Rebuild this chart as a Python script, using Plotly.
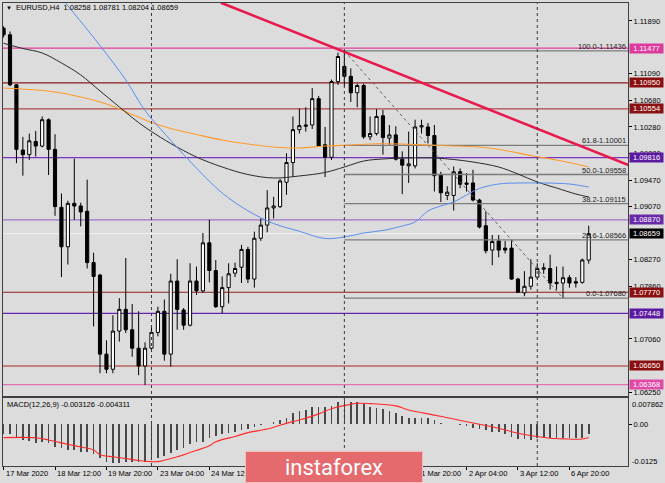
import plotly.graph_objects as go

W, H = 665, 483

# ---------------- data ----------------
opens = [1.1178, 1.1168, 1.1092, 1.0993, 1.0986, 1.1006, 1.0999, 1.1039, 1.0994, 1.0906,
         1.0846, 1.0912, 1.0908, 1.0900, 1.0822, 1.0803, 1.0683, 1.0660, 1.0718, 1.0751,
         1.0720, 1.0692, 1.0665, 1.0692, 1.0716, 1.0748, 1.0683, 1.0794, 1.0750, 1.0727,
         1.0794, 1.0779, 1.0852, 1.0810, 1.0755, 1.0784, 1.0806, 1.0815, 1.0842, 1.0797,
         1.0859, 1.0879, 1.0905, 1.0907, 1.0944, 1.0974, 1.1024, 1.1029, 1.1031, 1.1071,
         1.1001, 1.0982, 1.1097, 1.1120, 1.1105, 1.1080, 1.1091, 1.1013, 1.1018, 1.1045,
         1.1011, 1.1016, 1.0979, 1.0969, 1.0969, 1.1028, 1.1028, 1.1015, 1.0956, 1.0924,
         1.0924, 1.0960, 1.0943, 1.0943, 1.0917, 1.0878, 1.0841, 1.0855, 1.0844, 1.0844,
         1.0797, 1.0776, 1.0786, 1.0800, 1.0812, 1.0813, 1.0792, 1.0791, 1.0799, 1.0793,
         1.0792, 1.08258]
highs = [1.1181, 1.1173, 1.1093, 1.1013, 1.1018, 1.1022, 1.1044, 1.1041, 1.1017, 1.0927,
         1.0916, 1.0980, 1.0913, 1.0948, 1.0837, 1.0805, 1.0704, 1.0742, 1.0768, 1.0829,
         1.0759, 1.0748, 1.0701, 1.0726, 1.0755, 1.0766, 1.0805, 1.0827, 1.0753, 1.0821,
         1.0816, 1.0867, 1.0887, 1.0826, 1.0801, 1.0821, 1.0822, 1.0849, 1.0846, 1.0869,
         1.0889, 1.0932, 1.0922, 1.0949, 1.0988, 1.1044, 1.1056, 1.1058, 1.1087, 1.1075,
         1.1028, 1.1100, 1.1141, 1.11436, 1.1117, 1.1094, 1.1094, 1.1044, 1.1055, 1.1054,
         1.1031, 1.1029, 1.0991, 1.1021, 1.1039, 1.1039, 1.1034, 1.1031, 1.0960, 1.0938,
         1.0968, 1.0965, 1.0958, 1.0963, 1.0919, 1.0900, 1.0864, 1.0864, 1.0855, 1.0856,
         1.0799, 1.0809, 1.0827, 1.0821, 1.0821, 1.0834, 1.0816, 1.0816, 1.0803, 1.0800,
         1.0828, 1.08781]
lows = [1.1164, 1.1090, 1.0973, 1.0954, 1.0978, 1.0983, 1.0997, 1.0955, 1.0893, 1.0800,
        1.0819, 1.0887, 1.0877, 1.0813, 1.0725, 1.0654, 1.0654, 1.0654, 1.0702, 1.0715,
        1.0679, 1.0651, 1.0636, 1.0688, 1.0710, 1.0673, 1.0664, 1.0720, 1.0720, 1.0725,
        1.0773, 1.0776, 1.0792, 1.0753, 1.0745, 1.0760, 1.0800, 1.0791, 1.0791, 1.0784,
        1.0855, 1.0868, 1.0889, 1.0905, 1.0925, 1.0952, 1.1018, 1.1021, 1.1025, 1.0998,
        1.0952, 1.0978, 1.1092, 1.1089, 1.1066, 1.1058, 1.1010, 1.1008, 1.1015, 1.0986,
        1.1001, 1.0977, 1.0926, 1.0943, 1.0965, 1.1018, 1.1003, 1.0930, 1.0914, 1.0917,
        1.0901, 1.0935, 1.0930, 1.0915, 1.0874, 1.0836, 1.0818, 1.0830, 1.0836, 1.0796,
        1.0776, 1.0771, 1.0781, 1.0797, 1.0805, 1.0781, 1.0781, 1.0768, 1.0784, 1.0784,
        1.0790, 1.08204]
closes = [1.1168, 1.1092, 1.0994, 1.0986, 1.1007, 1.0999, 1.1039, 1.0994, 1.0907, 1.0846,
          1.0912, 1.0908, 1.0899, 1.0822, 1.0801, 1.0683, 1.0660, 1.0718, 1.0751, 1.0720,
          1.0692, 1.0665, 1.0692, 1.0716, 1.0748, 1.0683, 1.0794, 1.0751, 1.0727, 1.0794,
          1.0779, 1.0852, 1.0810, 1.0755, 1.0784, 1.0805, 1.0813, 1.0842, 1.0797, 1.0859,
          1.0879, 1.0905, 1.0908, 1.0946, 1.0974, 1.1024, 1.1030, 1.1031, 1.1071, 1.0999,
          1.0982, 1.1097, 1.1135, 1.1105, 1.1080, 1.1091, 1.1013, 1.1018, 1.1044, 1.1012,
          1.1016, 1.0979, 1.0970, 1.0972, 1.1028, 1.1030, 1.1015, 1.0954, 1.0928, 1.0929,
          1.0960, 1.0941, 1.0941, 1.0917, 1.0876, 1.0840, 1.0854, 1.0841, 1.0841, 1.0797,
          1.0777, 1.0786, 1.0800, 1.0813, 1.0814, 1.0791, 1.0790, 1.0799, 1.0791, 1.0791,
          1.0826, 1.08659]

# moving averages (bar index, value)
ma_blue_idx = [8, 9, 15, 19, 22, 26, 30, 34, 38, 42, 46, 50, 53, 56, 59, 62, 64, 66, 68,
               70, 72, 74, 77, 80, 84, 88, 91]
ma_blue_val = [1.12358, 1.12240, 1.11516, 1.10994, 1.10530, 1.10076, 1.09654, 1.09277,
               1.09007, 1.08814, 1.08696, 1.08586, 1.08609, 1.08670, 1.08708, 1.08776,
               1.08837, 1.09004, 1.09080, 1.09141, 1.09247, 1.09346, 1.09414, 1.09429,
               1.09429, 1.09414, 1.09368]
ma_black_idx = [0, 3, 6, 9, 12, 15, 18, 21, 23, 26, 30, 34, 38, 42, 46, 50, 53, 56, 59,
                63, 67, 70, 73, 77, 80, 83, 86, 89, 91]
ma_black_val = [1.11551, 1.11472, 1.11404, 1.11252, 1.11070, 1.10827, 1.10584, 1.10347,
                1.10211, 1.10029, 1.09824, 1.09672, 1.09558, 1.09505, 1.09536, 1.09589,
                1.09672, 1.09763, 1.09794, 1.09809, 1.09809, 1.09786, 1.09748, 1.09672,
                1.09566, 1.09444, 1.09353, 1.09262, 1.09217]
ma_orange_idx = [0, 4, 8, 12, 16, 20, 23, 26, 30, 34, 38, 42, 46, 50, 54, 58, 62, 66, 70,
                 74, 78, 82, 86, 89, 91]
ma_orange_val = [1.10872, 1.10849, 1.10812, 1.10736, 1.10629, 1.10470, 1.10348, 1.10257,
                 1.10166, 1.10082, 1.10022, 1.09976, 1.09961, 1.09991, 1.10006, 1.10025,
                 1.10022, 1.10006, 1.09991, 1.09976, 1.09923, 1.09847, 1.09779, 1.09718,
                 1.09672]

# MACD(12,26,9): main line (histogram) per bar, signal line points
macd_main = [-0.00326, -0.00326, -0.00402, -0.00511, -0.00544, -0.00620, -0.00587, -0.00620,
             -0.00728, -0.00783, -0.00837, -0.00837, -0.00891, -0.00913, -0.00978, -0.01109,
             -0.01217, -0.01250, -0.01250, -0.01217, -0.01217, -0.01217, -0.01217, -0.01174,
             -0.01109, -0.01033, -0.00946, -0.00837, -0.00761, -0.00652, -0.00587, -0.00565,
             -0.00435, -0.00370, -0.00326, -0.00293, -0.00239, -0.00196, -0.00163, -0.00080,
             -0.00030, 0.00010, 0.00090, 0.00140, 0.00220, 0.00360, 0.00430, 0.00467,
             0.00576, 0.00576, 0.00576, 0.00609, 0.00717, 0.00786, 0.00739, 0.00717,
             0.00652, 0.00576, 0.00522, 0.00500, 0.00435, 0.00359, 0.00272, 0.00217,
             0.00217, 0.00217, 0.00196, 0.00141, 0.00033, 0.00011, -0.00005, -0.00022,
             -0.00043, -0.00109, -0.00152, -0.00185, -0.00261, -0.00239, -0.00326, -0.00402,
             -0.00478, -0.00489, -0.00511, -0.00435, -0.00457, -0.00457, -0.00457, -0.00457,
             -0.00457, -0.00435, -0.00435, -0.003126]
signal_idx = [0, 5, 7, 10, 12, 14, 15, 17, 19, 21, 23, 24, 25, 27, 29, 32, 33, 36, 38, 41,
              43, 45, 46, 49, 51, 54, 55, 57, 61, 63, 67, 70, 74, 77, 80, 83, 85, 87, 90, 91]
signal_val = [-0.00435, -0.00440, -0.00511, -0.00652, -0.00740, -0.00837, -0.00990, -0.01060,
              -0.01115, -0.01180, -0.01217, -0.01217, -0.01170, -0.01060, -0.00920, -0.00700,
              -0.00570, -0.00395, -0.00272, -0.00155, -0.00030, 0.00087, 0.00141, 0.00340,
              0.00510, 0.00652, 0.00685, 0.00674, 0.00600, 0.00467, 0.00300, 0.00170,
              0.00000, -0.00130, -0.00290, -0.00400, -0.00455, -0.00475, -0.00478, -0.004311]

# horizontal levels
level_prices = [1.11477, 1.10950, 1.10554, 1.09816, 1.08870, 1.07770, 1.07448, 1.06650, 1.06368]
level_line_colors = ['#e2409e', '#8e1c1c', '#b04848', '#7a36c0', '#a070cc', '#8e1c1c',
                     '#6424b0', '#a42424', '#e472b2']
level_box_colors = ['#dc3a9c', '#8a0e0e', '#8a1212', '#5c1aa0', '#6a2aa8', '#8a0e0e',
                    '#5c1aa0', '#8a0e0e', '#e04aa6']
bid_price = 1.08659

# fibonacci retracement
fib_anchor_idx = [53, 87]
fib_anchor_price = [1.11436, 1.07680]
fib_levels = ['100.0', '61.8', '50.0', '38.2', '23.6', '0.0']
fib_prices = [1.11436, 1.10001, 1.09558, 1.09115, 1.08566, 1.07680]

# red trendline anchors
trend_idx = [33.8, 97.2]
trend_price = [1.12168, 1.09700]

# week separators (bar index of Monday 00:00)
week_start_idx = [23, 53, 83]

# axis labels (labels fully hidden under the price boxes / watermark are omitted)
price_ticks = [1.11890, 1.11090, 1.10680, 1.10280, 1.09880, 1.09470, 1.09070,
               1.08270, 1.07860, 1.07060, 1.06250]
time_tick_idx = [0, 8, 16, 24, 32, 40, 48, 56, 64, 72, 80, 88]
time_label_idx = [0, 8, 16, 24, 32, 64, 72, 80, 88]
time_label_text = ['17 Mar 2020', '18 Mar 12:00', '19 Mar 20:00', '23 Mar 04:00',
                   '24 Mar 12:00', '31 Mar 20:00', '2 Apr 04:00', '3 Apr 12:00', '6 Apr 20:00']
macd_max, macd_min = 0.007862, -0.0125

title_text = 'EURUSD,H4  1.08258 1.08781 1.08204 1.08659'
macd_text = 'MACD(12,26,9) -0.003126 -0.004311'

# ---------------- layout helpers ----------------
def px(x):
    return x / W

def py(y):
    return 1 - y / H

FONT = 'Liberation Sans'
FS = 7.5
X_LEFT, X_RIGHT = 3, 628
MAIN_TOP, MAIN_BOT = 3, 396
SUB_TOP, SUB_BOT = 398, 466
X_RANGE = [-0.09, 97.11]
Y_RANGE = [1.06194, 1.12163]
Y2_RANGE = [-0.01359, 0.00857]

idx = list(range(len(opens)))

fig = go.Figure()

# fib lines
for p in fib_prices:
    fig.add_trace(go.Scatter(x=[fib_anchor_idx[0], X_RANGE[1]], y=[p, p], mode='lines',
                             line=dict(color='#7c7c7c', width=1.3), hoverinfo='skip'))
fig.add_trace(go.Scatter(x=fib_anchor_idx, y=fib_anchor_price, mode='lines',
                         line=dict(color='#606060', width=1, dash='dot'), hoverinfo='skip'))

# candles
fig.add_trace(go.Candlestick(
    x=idx, open=opens, high=highs, low=lows, close=closes,
    increasing=dict(line=dict(color='#000000', width=1), fillcolor='#ffffff'),
    decreasing=dict(line=dict(color='#000000', width=1), fillcolor='#000000'),
    whiskerwidth=0, hoverinfo='skip'))

# moving averages
fig.add_trace(go.Scatter(x=ma_orange_idx, y=ma_orange_val, mode='lines',
                         line=dict(color='#ff9b2e', width=1.1, shape='spline'), hoverinfo='skip'))
fig.add_trace(go.Scatter(x=ma_black_idx, y=ma_black_val, mode='lines',
                         line=dict(color='#2a2a2a', width=1, shape='spline'), hoverinfo='skip'))
fig.add_trace(go.Scatter(x=ma_blue_idx, y=ma_blue_val, mode='lines',
                         line=dict(color='#5a8ef0', width=1, shape='spline'), hoverinfo='skip'))

# trendline
fig.add_trace(go.Scatter(x=trend_idx, y=trend_price, mode='lines',
                         line=dict(color='#e8194c', width=2.6), hoverinfo='skip'))

# MACD
fig.add_trace(go.Bar(x=idx, y=macd_main, width=0.26, marker=dict(color='#484848', line=dict(width=0)),
                     xaxis='x2', yaxis='y2', hoverinfo='skip'))
fig.add_trace(go.Scatter(x=signal_idx, y=signal_val, mode='lines', xaxis='x2', yaxis='y2',
                         line=dict(color='#ff2a2a', width=1.1, shape='spline'), hoverinfo='skip'))

shapes = []
for p, c in zip(level_prices, level_line_colors):
    shapes.append(dict(type='line', xref='paper', yref='y', x0=px(X_LEFT), x1=px(X_RIGHT),
                       y0=p, y1=p, line=dict(color=c, width=1.2), layer='below'))
shapes.append(dict(type='line', xref='paper', yref='y', x0=px(X_LEFT), x1=px(X_RIGHT),
                   y0=bid_price, y1=bid_price, line=dict(color='#f2f2f2', width=1), layer='below'))
for wi in week_start_idx:
    shapes.append(dict(type='line', xref='x', yref='paper', x0=wi, x1=wi,
                       y0=py(SUB_BOT), y1=py(MAIN_TOP), line=dict(color='#3a3a3a', width=1, dash='dot')))

ann = []
# price boxes
for p, c in zip(level_prices, level_box_colors):
    ann.append(dict(xref='paper', yref='y', x=px(629), y=p, xanchor='left', yanchor='middle',
                    text='%.5f' % p, showarrow=False, bgcolor=c, width=33, height=9, borderpad=0,
                    font=dict(family=FONT, size=FS, color='#ffffff')))
ann.append(dict(xref='paper', yref='y', x=px(629), y=bid_price, xanchor='left', yanchor='middle',
                text='%.5f' % bid_price, showarrow=False, bgcolor='#000000', width=33, height=9,
                borderpad=0, font=dict(family=FONT, size=FS, color='#ffffff')))
# fib labels
for lv, p in zip(fib_levels, fib_prices):
    ann.append(dict(xref='paper', yref='y', x=px(X_RIGHT - 1), y=p, xanchor='right', yanchor='bottom',
                    text='%s-%.5f' % (lv, p), showarrow=False, borderpad=0, yshift=-1,
                    font=dict(family=FONT, size=FS, color='#222222')))
# title & macd label
ann.append(dict(xref='paper', yref='paper', x=px(4), y=py(8), xanchor='left', yanchor='middle',
                text='▼', showarrow=False, font=dict(family=FONT, size=6, color='#000000')))
ann.append(dict(xref='paper', yref='paper', x=px(14), y=py(8), xanchor='left', yanchor='middle',
                text=title_text, showarrow=False, font=dict(family=FONT, size=FS, color='#000000')))
ann.append(dict(xref='paper', yref='paper', x=px(5), y=py(404), xanchor='left', yanchor='middle',
                text=macd_text, showarrow=False, font=dict(family=FONT, size=FS, color='#000000')))
# macd axis labels
for val, ypx in [(macd_max, 404), (macd_min, 461)]:
    ann.append(dict(xref='paper', yref='paper', x=px(630), y=py(ypx), xanchor='left', yanchor='middle',
                    text=('%.6f' % val) if val > 0 else ('%.4f' % val), showarrow=False,
                    font=dict(family=FONT, size=FS, color='#000000')))
# time labels
for ti, tt in zip(time_label_idx, time_label_text):
    ann.append(dict(xref='x2', yref='paper', x=ti, y=py(473), xanchor='left', yanchor='middle',
                    text=tt, showarrow=False, xshift=0,
                    font=dict(family=FONT, size=FS, color='#000000')))
# watermark
ann.append(dict(xref='paper', yref='paper', x=px(245), y=py(483), xanchor='left', yanchor='bottom',
                text='instaforex', showarrow=False, bgcolor='#e46a6d', bordercolor='#f3bcbc',
                borderwidth=1, borderpad=0, width=176, height=30,
                font=dict(family='Roboto', size=22, color='#ffffff')))

axis_common = dict(showgrid=False, zeroline=False, showline=True, mirror=True,
                   linecolor='#404040', linewidth=1)

fig.update_layout(
    width=W, height=H, margin=dict(l=0, r=0, t=0, b=0),
    paper_bgcolor='#dcdcdc', plot_bgcolor='#dcdcdc', showlegend=False,
    shapes=shapes, annotations=ann, bargap=0,
    xaxis=dict(domain=[px(X_LEFT), px(X_RIGHT)], range=X_RANGE, anchor='y',
               showticklabels=False, rangeslider=dict(visible=False), **axis_common),
    yaxis=dict(domain=[py(MAIN_BOT), py(MAIN_TOP)], range=Y_RANGE, anchor='x', side='right',
               tickvals=price_ticks, ticktext=['%.5f' % t for t in price_ticks],
               ticks='outside', ticklen=3, tickcolor='#000000',
               tickfont=dict(family=FONT, size=FS, color='#000000'), **axis_common),
    xaxis2=dict(domain=[px(X_LEFT), px(X_RIGHT)], range=X_RANGE, anchor='y2',
                showticklabels=False, tickvals=time_tick_idx, ticks='outside', ticklen=3,
                tickcolor='#000000', **axis_common),
    yaxis2=dict(domain=[py(SUB_BOT), py(SUB_TOP)], range=Y2_RANGE, anchor='x2', side='right',
                tickvals=[0.0], ticktext=['0.00'], ticks='outside', ticklen=3, tickcolor='#000000',
                tickfont=dict(family=FONT, size=FS, color='#000000'), **axis_common),
)

fig.write_html('out.html', config={'displayModeBar': False, 'staticPlot': True},
               post_script="document.body.style.margin='0';document.body.style.padding='0';"
                           "document.documentElement.style.overflow='hidden';")
